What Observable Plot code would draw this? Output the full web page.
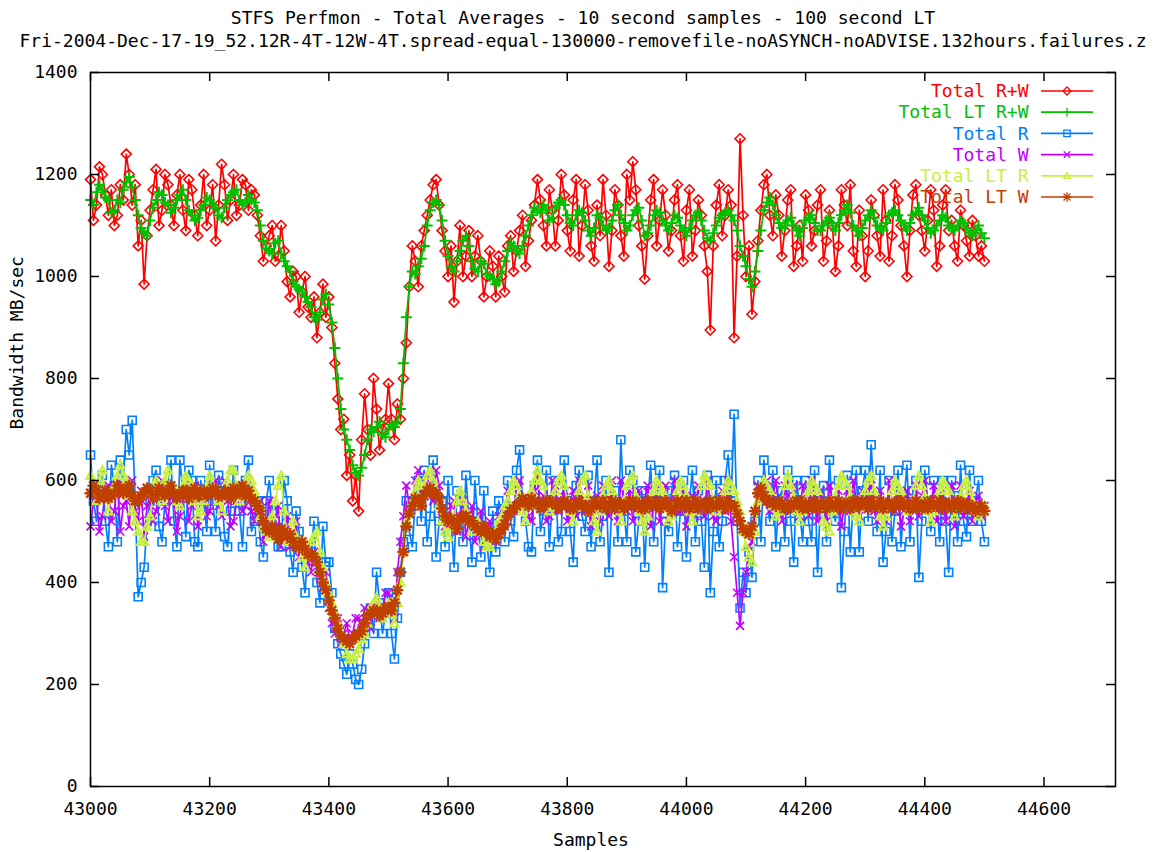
<!DOCTYPE html>
<html><head><meta charset="utf-8">
<script src="https://cdn.jsdelivr.net/npm/d3@7"></script>
<script src="https://cdn.jsdelivr.net/npm/@observablehq/plot@0.6"></script>
<style>body{margin:0;background:#fff;overflow:hidden;}</style>
</head><body><div id="chart"></div>
<script>
const titleLine1 = "STFS Perfmon - Total Averages - 10 second samples - 100 second LT";
const titleLine2 = "Fri-2004-Dec-17-19_52.12R-4T-12W-4T.spread-equal-130000-removefile-noASYNCH-noADVISE.132hours.failures.z";
const xLabel = "Samples";
const yLabel = "Bandwidth MB/sec";
const startSample = 43000, sampleStep = 5;
const xTicks = [43000, 43200, 43400, 43600, 43800, 44000, 44200, 44400, 44600];
const yTicks = [0, 200, 400, 600, 800, 1000, 1200, 1400];
const seriesNames = ["Total R+W", "Total LT R+W", "Total R", "Total W", "Total LT R", "Total LT W"];

// values at samples 43000, 43010, ... 44500
const totalRW = [
1190,1140,1200,1120,1100,1180,1240,1140,1060,985,
1130,1210,1130,1180,1100,1200,1090,1170,1080,1200,
1130,1070,1220,1110,1200,1140,1180,1170,1120,1030,
1080,1030,1100,990,1010,930,1000,920,880,985,
960,830,700,610,560,540,770,650,740,700,
790,680,720,870,1060,980,1090,1150,1190,1090,
1000,950,1100,1040,1000,1080,960,1050,960,1000,
1060,1010,1090,1020,1110,1190,1100,1170,1060,1200,
1090,1150,1040,1180,1060,1140,1190,1020,1170,1080,
1200,1225,1100,995,1150,1060,1170,1050,1150,1080,
1130,1040,1150,1060,895,1140,1080,1170,880,1270,
1000,926,1070,1180,1120,1160,1040,1150,1020,1100,
1160,1060,1140,1030,1130,1010,1170,1100,1050,1130,
1000,1150,1080,1170,1030,1180,1100,1000,1160,1120,
1050,1170,1020,1140,1090,1060,1130,1070,1110,1040,
1030];
// values at samples 43005, 43015, ... 44495
const totalRWMid = [
1110,1215,1160,1170,1120,1150,1200,1180,1110,1080,
1170,1100,1200,1140,1160,1130,1190,1120,1140,1100,
1180,1140,1180,1150,1120,1190,1130,1160,1080,1060,
1100,1040,1050,960,1000,970,940,960,930,920,
900,760,720,650,610,680,700,800,660,720,
720,750,800,980,1030,1060,1120,1180,1140,1050,
1060,1030,1000,1090,1040,1030,1000,1020,1040,970,
1080,1050,1120,1070,1140,1150,1060,1130,1110,1160,
1050,1190,1100,1130,1030,1080,1120,1090,1140,1040,
1150,1170,1060,1080,1190,1110,1120,1090,1180,1030,
1170,1090,1120,1010,1060,1180,1120,1140,1040,1120,
1060,990,1130,1200,1080,1120,1090,1170,1060,1030,
1130,1090,1170,1070,1100,1060,1140,1180,1020,1080,
1050,1120,1040,1110,1080,1150,1060,1090,1180,1090,
1110,1130,1060,1170,1110,1030,1100,1040,1080,1060];

const totalLtRW = [
1150,1165,1170,1150,1130,1145,1185,1175,1120,1085,
1110,1150,1160,1140,1135,1160,1150,1120,1115,1140,
1150,1135,1115,1150,1165,1150,1145,1150,1130,1070,
1050,1065,1045,1020,990,975,960,940,915,955,
945,860,740,680,630,610,650,700,705,690,
700,705,740,920,1010,1020,1060,1130,1150,1110,
1040,1010,1050,1080,1030,1010,1025,1000,985,1010,
1050,1060,1045,1080,1120,1130,1140,1110,1135,1150,
1120,1100,1130,1110,1080,1120,1100,1095,1130,1120,
1090,1120,1135,1080,1100,1130,1110,1090,1120,1100,
1080,1110,1125,1090,1070,1100,1120,1130,1110,1060,
1020,980,1050,1130,1155,1120,1095,1110,1100,1080,
1110,1120,1090,1100,1115,1090,1120,1140,1100,1080,
1110,1130,1100,1090,1120,1130,1110,1090,1120,1135,
1110,1085,1100,1120,1100,1090,1110,1095,1080,1100,
1075];
const totalLtRWMid = [
1140,1180,1155,1125,1150,1170,1195,1150,1095,1080,
1135,1165,1145,1125,1150,1170,1130,1110,1130,1155,
1140,1120,1135,1160,1170,1140,1160,1145,1100,1055,
1045,1070,1030,1010,980,970,950,920,930,965,
910,800,700,660,615,625,680,695,715,685,
710,715,830,980,1005,1035,1100,1145,1140,1070,
1020,1030,1070,1060,1015,1030,1005,995,990,1030,
1065,1050,1060,1100,1135,1125,1130,1115,1145,1140,
1105,1120,1125,1090,1095,1115,1090,1110,1140,1105,
1100,1130,1110,1085,1120,1125,1100,1105,1115,1090,
1095,1120,1110,1075,1085,1115,1125,1120,1090,1040,
995,1010,1090,1145,1140,1105,1100,1115,1090,1095,
1115,1105,1090,1110,1100,1105,1130,1125,1090,1095,
1120,1115,1095,1105,1125,1120,1100,1105,1125,1120,
1095,1090,1110,1115,1095,1100,1105,1085,1090,1085];

const totalR = [
650,520,610,470,590,640,700,718,372,430,
560,620,480,590,520,640,490,600,470,560,
630,500,580,470,620,540,600,500,560,450,
600,520,470,560,420,500,380,460,400,510,
440,310,260,220,240,200,280,350,420,300,
380,250,420,560,470,600,620,530,450,560,
600,430,560,610,440,520,580,420,460,540,
600,490,660,520,460,640,540,470,600,500,
560,440,620,500,470,640,530,420,580,680,
480,600,520,430,630,560,390,500,610,540,
450,620,580,430,380,600,520,650,730,350,
380,410,600,640,520,470,580,620,440,540,
600,480,420,590,640,520,390,610,560,460,
620,670,500,440,600,540,470,630,580,410,
620,500,560,600,420,570,630,490,520,600,
480];
const totalRMid = [
560,580,520,630,480,600,650,560,400,520,
600,510,560,640,470,580,620,480,600,500,
560,610,490,540,580,470,640,520,480,560,
540,470,600,460,540,430,470,520,360,440,
380,280,240,260,210,230,320,300,360,340,
300,330,480,500,560,520,480,640,520,470,
520,580,480,520,600,450,480,540,560,480,
520,620,560,470,590,500,620,560,480,640,
500,590,530,610,560,480,600,560,480,540,
620,460,580,560,480,620,520,580,470,600,
560,480,520,610,500,470,600,560,520,420,
460,520,480,560,620,560,480,520,600,480,
520,620,560,480,540,600,500,460,620,580,
520,560,620,500,480,620,560,480,600,520,
560,600,480,520,600,480,520,620,560,520];

const totalW = [
510,560,530,590,540,500,560,600,520,490,
570,540,600,520,560,530,590,550,510,580,
540,600,530,560,520,590,550,540,530,480,
560,510,470,530,490,450,470,420,440,390,
350,300,280,320,300,330,350,310,360,340,
380,330,480,590,560,620,600,580,620,540,
510,560,530,490,550,500,470,520,480,540,
580,540,600,560,520,610,570,530,590,560,
520,580,600,540,510,570,590,530,560,600,
540,520,580,560,510,590,550,520,600,540,
510,570,590,530,560,520,580,600,450,315,
420,480,590,560,540,600,520,570,590,530,
560,600,520,550,590,540,510,580,600,530,
560,590,520,550,600,540,510,580,560,530,
600,550,520,580,560,510,590,540,520,570,
550];
const totalWMid = [
560,500,580,520,600,550,510,540,580,550,
520,590,550,580,500,570,520,590,560,530,
580,550,600,510,560,540,600,520,560,520,
500,550,500,470,520,470,440,460,410,420,
320,330,300,290,330,310,320,350,330,380,
340,420,530,550,600,570,610,560,590,510,
550,500,560,520,480,540,500,490,530,510,
550,590,560,530,580,550,520,600,540,580,
560,530,560,590,550,520,560,600,520,560,
580,560,530,590,550,520,590,560,540,580,
550,530,560,600,530,560,540,520,380,380,
470,540,560,600,570,550,590,540,560,590,
530,570,580,520,560,580,550,540,560,580,
580,540,580,520,560,580,540,520,590,570,
560,590,540,520,590,550,530,580,560,530];

const totalLtR = [
610,560,620,540,590,630,600,540,500,480,
530,600,560,620,580,550,610,590,530,560,
610,580,540,600,620,560,590,600,560,510,
490,560,610,480,520,470,430,480,500,430,
380,340,300,260,250,270,300,350,370,330,
360,320,400,520,560,600,590,620,580,520,
490,530,580,540,500,520,480,470,500,530,
560,600,570,520,580,620,590,540,580,610,
560,520,580,610,540,500,570,600,560,520,
590,610,540,500,560,600,580,520,550,600,
570,520,560,610,590,540,560,600,580,540,
470,440,560,600,580,530,560,610,570,520,
560,600,580,520,500,570,610,590,540,520,
580,610,560,510,550,600,580,540,560,610,
570,520,560,600,580,530,570,600,560,530,
550];
const totalLtRMid = [
580,600,570,570,610,610,570,520,480,510,
570,580,600,590,560,590,600,560,540,590,
590,560,570,620,590,570,610,580,530,500,
530,590,540,500,490,450,460,490,460,400,
360,320,280,250,260,290,320,360,350,340,
340,360,460,540,580,590,610,600,550,500,
510,560,560,520,510,500,470,490,520,550,
580,590,540,550,600,600,560,560,600,590,
540,550,600,570,520,540,590,580,540,560,
600,570,520,530,580,590,550,530,580,590,
540,540,590,600,560,550,580,590,560,500,
450,500,580,590,550,540,590,590,540,540,
580,590,550,510,540,590,600,570,530,550,
600,580,530,530,580,590,560,550,590,590,
540,540,580,590,550,550,590,580,540,540];

const totalLtW = [
575,580,570,565,575,585,580,570,560,575,
580,570,575,580,575,570,580,575,570,580,
575,580,570,575,585,575,570,565,550,520,
500,495,505,490,480,470,465,455,440,400,
365,330,295,285,290,300,320,340,345,340,
350,360,420,510,550,560,570,585,575,545,
520,515,525,530,520,505,510,490,485,505,
530,545,555,560,565,555,550,560,555,550,
555,545,560,550,545,555,560,550,545,555,
550,560,555,545,550,560,555,550,545,555,
560,550,545,555,560,550,555,560,550,520,
500,510,575,570,560,550,555,545,550,560,
555,550,545,555,560,550,545,555,560,550,
555,560,550,545,555,550,560,555,545,550,
555,560,550,545,555,550,545,555,550,545,
540];
const totalLtWMid = [
590,565,580,570,590,575,590,560,570,585,
565,585,570,590,565,580,565,585,575,570,
585,570,580,565,575,590,580,560,540,505,
510,485,500,495,470,480,455,450,420,385,
345,310,290,280,295,305,335,345,335,350,
345,385,460,535,565,550,580,575,565,530,
525,505,530,520,510,500,500,495,495,515,
540,550,565,550,560,545,560,555,545,560,
545,555,550,540,560,550,545,560,555,545,
560,550,545,560,555,545,560,540,560,550,
545,560,555,545,550,560,545,550,535,505,
495,540,585,560,555,560,545,555,560,545,
545,560,550,545,550,560,555,545,550,560,
545,550,560,555,545,560,550,545,560,545,
545,550,560,555,545,560,555,545,540,550];

function interleave(a, b) {
  const out = [];
  a.forEach((v, i) => { out.push(v); if (i < b.length) out.push(b[i]); });
  return out;
}
const seriesValues = [
  interleave(totalRW, totalRWMid),
  interleave(totalLtRW, totalLtRWMid),
  interleave(totalR, totalRMid),
  interleave(totalW, totalWMid),
  interleave(totalLtR, totalLtRMid),
  interleave(totalLtW, totalLtWMid)
];
const seriesColors = ["#ff0000", "#00c000", "#0080ff", "#c000ff", "#c8f040", "#c04000"];
const markerWidths = [1.6, 2.0, 1.6, 1.6, 2.2, 2.4];

// marker shapes (gnuplot gd point types)
const symbols = [
  {draw(c){const s=5;c.moveTo(0,-s);c.lineTo(s,0);c.lineTo(0,s);c.lineTo(-s,0);c.closePath();}},
  {draw(c){const s=5.5;c.moveTo(-s,0);c.lineTo(s,0);c.moveTo(0,-s);c.lineTo(0,s);}},
  {draw(c){const s=4;c.moveTo(-s,-s);c.lineTo(s,-s);c.lineTo(s,s);c.lineTo(-s,s);c.closePath();}},
  {draw(c){const s=4;c.moveTo(-s,-s);c.lineTo(s,s);c.moveTo(-s,s);c.lineTo(s,-s);}},
  {draw(c){const s=4;c.moveTo(0,-s);c.lineTo(s,s*0.8);c.lineTo(-s,s*0.8);c.closePath();}},
  {draw(c){const s=6,t=4.3;c.moveTo(-s,0);c.lineTo(s,0);c.moveTo(0,-s);c.lineTo(0,s);c.moveTo(-t,-t);c.lineTo(t,t);c.moveTo(-t,t);c.lineTo(t,-t);}}
];

const W = 1157, H = 852;
const mL = 90, mR = 42, mT = 72, mB = 66;
const frameW = W - mL - mR, frameH = H - mT - mB;
const tickLen = 9;

const marks = [];
seriesValues.forEach((vals, k) => {
  const data = vals.map((v, i) => ({x: startSample + i * sampleStep, y: v}));
  marks.push(Plot.line(data, {x: "x", y: "y", stroke: seriesColors[k], strokeWidth: 1.7}));
  marks.push(Plot.dot(data, {x: "x", y: "y", symbol: symbols[k], stroke: seriesColors[k], fill: "none", strokeWidth: markerWidths[k]}));
});
marks.push(
  Plot.frame({stroke: "black", strokeWidth: 1.5}),
  Plot.tickX(xTicks, {x: d => d, insetTop: frameH - tickLen, stroke: "black", strokeWidth: 1.5}),
  Plot.tickX(xTicks, {x: d => d, insetBottom: frameH - tickLen, stroke: "black", strokeWidth: 1.5}),
  Plot.tickY(yTicks, {y: d => d, insetRight: frameW - tickLen, stroke: "black", strokeWidth: 1.5}),
  Plot.tickY(yTicks, {y: d => d, insetLeft: frameW - tickLen, stroke: "black", strokeWidth: 1.5}),
  Plot.axisX({ticks: xTicks, tickSize: 0, tickPadding: 16, tickFormat: d => String(d), label: null}),
  Plot.axisY({ticks: yTicks, tickSize: 0, tickPadding: 13, tickFormat: d => String(d), label: null}),
  Plot.text([titleLine1], {text: d => d, frameAnchor: "top", dx: -20, dy: -54, lineAnchor: "middle", fill: "black"}),
  Plot.text([titleLine2], {text: d => d, frameAnchor: "top", dx: -20, dy: -31, lineAnchor: "middle", fill: "black"}),
  Plot.text([xLabel], {text: d => d, frameAnchor: "bottom", dx: -12, dy: 54, lineAnchor: "middle", fill: "black"}),
  Plot.text([yLabel], {text: d => d, frameAnchor: "left", dx: -73, rotate: -90, lineAnchor: "middle", fill: "black"})
);
seriesNames.forEach((name, k) => {
  marks.push(Plot.text([name], {text: d => d, frameAnchor: "top-right", textAnchor: "end", lineAnchor: "middle", dx: -87, dy: 19 + 21.2 * k, fill: seriesColors[k]}));
});

const chart = Plot.plot({
  width: W, height: H,
  marginLeft: mL, marginRight: mR, marginTop: mT, marginBottom: mB,
  x: {domain: [43000, 44720]},
  y: {domain: [0, 1400]},
  style: {fontFamily: "'DejaVu Sans Mono', monospace", fontSize: "18px", background: "white", color: "black"},
  marks
});
document.getElementById("chart").append(chart);

// legend line samples with markers
const svg = d3.select(chart);
const g = svg.append("g");
seriesNames.forEach((name, k) => {
  const cy = mT + 19 + 21.2 * k;
  const cx = W - mR - 48;
  g.append("line").attr("x1", cx - 26).attr("x2", cx + 26).attr("y1", cy).attr("y2", cy)
    .attr("stroke", seriesColors[k]).attr("stroke-width", 1.7);
  const p = d3.path(); symbols[k].draw(p);
  g.append("path").attr("d", p.toString()).attr("transform", `translate(${cx},${cy}) scale(0.8)`)
    .attr("fill", "none").attr("stroke", seriesColors[k]).attr("stroke-width", 1.6);
});
</script>
</body></html>
